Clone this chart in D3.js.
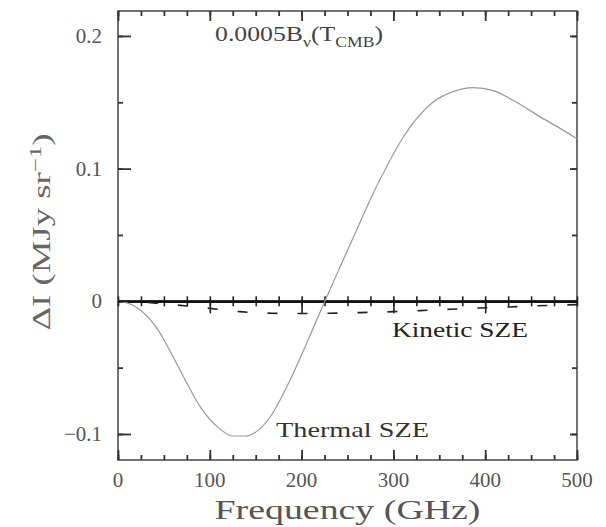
<!DOCTYPE html>
<html>
<head>
<meta charset="utf-8">
<title>SZE spectrum</title>
<script src="https://d3js.org/d3.v7.min.js"></script>
<style>
  body { margin: 0; background: #fff; }
  svg text { font-family: "Liberation Serif", "DejaVu Serif", serif; fill: #3a3a3a; }
  .frame path.domain { stroke: none; }
  .frame line { stroke: #333; stroke-width: 1.8px; }
  .zero path.domain { stroke: #111; stroke-width: 2.6px; }
  .zero line { stroke: #222; stroke-width: 1.6px; }
</style>
</head>
<body>
<div id="chart"></div>
<script>
// thermal SZE curve (GHz, MJy/sr)
const thermalFreq = [0, 10, 20, 30, 36, 45, 54, 73, 90, 109, 125, 139, 149, 166, 187, 204, 219, 231, 262, 277, 293, 311, 343, 365, 387, 408, 434, 460, 492, 500];
const thermalVal = [0, -0.0012, -0.0045, -0.010, -0.0145, -0.023, -0.034, -0.059, -0.080, -0.095, -0.1015, -0.1015, -0.099, -0.087, -0.060, -0.034, -0.010, 0.009, 0.057, 0.080, 0.102, 0.124, 0.150, 0.158, 0.161, 0.159, 0.150, 0.139, 0.126, 0.1225];

// kinetic SZE (dashed), small negative values
const kineticFreq = [0, 25, 50, 75, 100, 133, 168, 198, 231, 264, 300, 329, 362, 394, 425, 452, 500];
const kineticVal = [0, -0.0005, -0.002, -0.0035, -0.0053, -0.0078, -0.009, -0.0092, -0.009, -0.0085, -0.0078, -0.007, -0.006, -0.005, -0.0043, -0.0035, -0.0025];

const xMajor = [0, 100, 200, 300, 400, 500];
const xMinor = d3.range(0, 501, 25);
const yMajor = [-0.1, 0, 0.1, 0.2];
const yMinor = [-0.1, -0.05, 0, 0.05, 0.1, 0.15, 0.2];
const yLabels = ["\u22120.1", "0", "0.1", "0.2"];

const W = 606, H = 527;
const margin = { top: 11, right: 29, bottom: 67, left: 118 };
const width = W - margin.left - margin.right;
const height = H - margin.top - margin.bottom;

const svg = d3.select("#chart").append("svg")
    .attr("width", W)
    .attr("height", H);

const g = svg.append("g")
    .attr("transform", `translate(${margin.left},${margin.top})`);

const x = d3.scaleLinear().domain([0, 500]).range([0, width]);
const y = d3.scaleLinear().domain([-0.1196, 0.2188]).range([height, 0]);

// frame
g.append("rect")
    .attr("width", width).attr("height", height)
    .attr("fill", "none").attr("stroke", "#444").attr("stroke-width", 1.5);

// inward ticks on all four sides
function ticks(axis, vals, size, transform) {
    g.append("g").attr("class", "frame")
        .attr("transform", transform || null)
        .call(axis.tickValues(vals).tickSize(-size).tickFormat(""));
}
ticks(d3.axisBottom(x), xMinor, 5, `translate(0,${height})`);
ticks(d3.axisBottom(x), xMajor, 10, `translate(0,${height})`);
ticks(d3.axisTop(x), xMinor, 5);
ticks(d3.axisTop(x), xMajor, 10);
ticks(d3.axisLeft(y), yMinor, 5);
ticks(d3.axisLeft(y), yMajor, 13);
ticks(d3.axisRight(y), yMinor, 5, `translate(${width},0)`);
ticks(d3.axisRight(y), yMajor, 7, `translate(${width},0)`);

// tick labels
g.selectAll(".xlab").data(xMajor).join("text")
    .attr("x", d => x(d)).attr("y", height + 27)
    .attr("text-anchor", "middle")
    .style("font-size", "21px").style("fill", "#555")
    .text(d => d);

g.selectAll(".ylab").data(yMajor).join("text")
    .attr("x", -16).attr("y", d => y(d) + 7)
    .attr("text-anchor", "end")
    .style("font-size", "21px").style("fill", "#555")
    .text((d, i) => yLabels[i]);

// zero line with ticks both ways
const zero = g.append("g").attr("class", "zero")
    .attr("transform", `translate(0,${y(0)})`);
zero.append("g").call(d3.axisTop(x).tickValues(xMinor).tickSize(5).tickSizeOuter(0).tickFormat(""));
zero.append("g").call(d3.axisBottom(x).tickValues(xMinor).tickSize(5).tickSizeOuter(0).tickFormat(""));
zero.append("g").call(d3.axisBottom(x).tickValues(xMajor.slice(1, 5)).tickSize(12).tickSizeOuter(0).tickFormat(""));

// curves
const thermal = thermalFreq.map((f, i) => [f, thermalVal[i]]);
const kinetic = kineticFreq.map((f, i) => [f, kineticVal[i]]);
const line = d3.line().x(d => x(d[0])).y(d => y(d[1])).curve(d3.curveMonotoneX);

g.append("path").datum(thermal)
    .attr("d", line)
    .attr("fill", "none").attr("stroke", "#999").attr("stroke-width", 1.2);

g.append("path").datum(kinetic)
    .attr("d", line)
    .attr("fill", "none").attr("stroke", "#222").attr("stroke-width", 1.6)
    .attr("stroke-dasharray", "10,20");

// annotations
const cmbLabel = g.append("text").attr("x", 97).attr("y", 30)
    .style("font-size", "22px").style("fill", "#444")
    .attr("textLength", 168).attr("lengthAdjust", "spacingAndGlyphs");
cmbLabel.append("tspan").text("0.0005B");
cmbLabel.append("tspan").attr("dy", 6).style("font-size", "15px").text("\u03bd");
cmbLabel.append("tspan").attr("dy", -6).text("(T");
cmbLabel.append("tspan").attr("dy", 6).style("font-size", "15px").text("CMB");
cmbLabel.append("tspan").attr("dy", -6).text(")");

g.append("text").attr("x", 274).attr("y", 326)
    .style("font-size", "21px").style("fill", "#222")
    .attr("textLength", 136).attr("lengthAdjust", "spacingAndGlyphs")
    .text("Kinetic SZE");

g.append("text").attr("x", 158).attr("y", 426)
    .style("font-size", "21px").style("fill", "#333")
    .attr("textLength", 153).attr("lengthAdjust", "spacingAndGlyphs")
    .text("Thermal SZE");

// axis titles
svg.append("text")
    .attr("x", margin.left + width / 2).attr("y", H - 8)
    .attr("text-anchor", "middle")
    .style("font-size", "27px").style("fill", "#555")
    .attr("textLength", 266).attr("lengthAdjust", "spacingAndGlyphs")
    .text("Frequency (GHz)");

const yt = svg.append("text")
    .attr("transform", `translate(50,232) rotate(-90)`)
    .attr("text-anchor", "middle")
    .style("font-size", "25px").style("fill", "#666")
    .attr("textLength", 197).attr("lengthAdjust", "spacingAndGlyphs");
yt.append("tspan").text("\u0394I (MJy sr");
yt.append("tspan").attr("dy", -9).style("font-size", "17px").text("\u22121");
yt.append("tspan").attr("dy", 9).text(")");
</script>
</body>
</html>
